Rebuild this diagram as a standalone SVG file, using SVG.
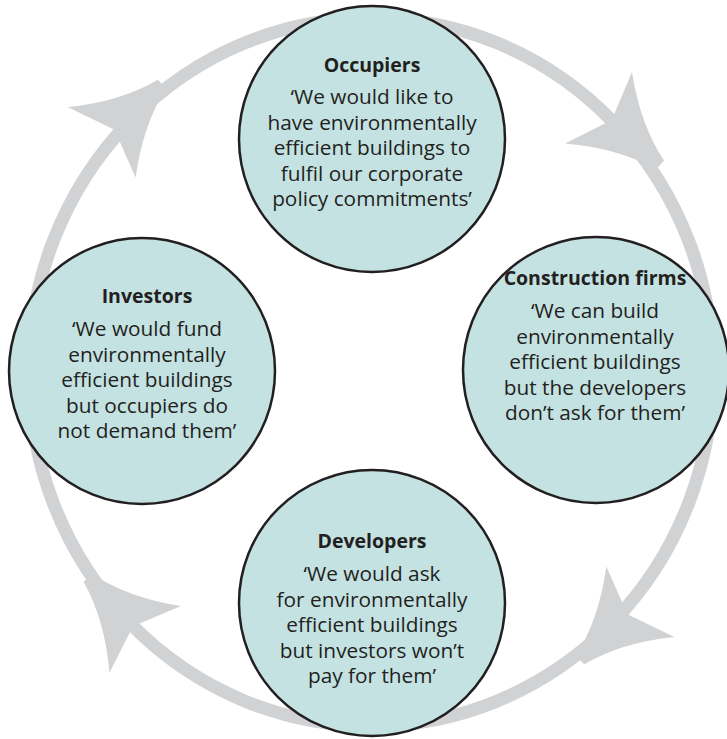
<svg xmlns="http://www.w3.org/2000/svg" width="727" height="739" viewBox="0 0 727 739">
<style>
.ring{fill:none;stroke:#d1d2d4;stroke-width:13}
.ah{fill:#d1d2d4}
.node{fill:#c4e2e2;stroke:#231f20;stroke-width:2.5}
.t{font-family:"Open Sans","Noto Sans",sans-serif;font-size:19.5px;font-weight:bold;fill:#231f20;text-anchor:middle}
.b{font-family:"Open Sans","Noto Sans",sans-serif;font-size:20.8px;fill:#231f20;text-anchor:middle}
</style>
<defs>
<path id="head" d="M0,-6 Q-42,-16 -84,-49 L-66,0 L-84,49 Q-42,16 0,6 Z"/>
</defs>
<g id="connectors">
<ellipse class="ring" cx="371" cy="372" rx="342" ry="354"/>
<use href="#head" class="ah" transform="translate(660,165) rotate(43)"/>
<use href="#head" class="ah" transform="translate(580,660) rotate(136)"/>
<use href="#head" class="ah" transform="translate(88,578) rotate(227)"/>
<use href="#head" class="ah" transform="translate(162,84) rotate(-44)"/>
</g>
<g id="occupiers">
<circle class="node" cx="372" cy="139" r="133"/>
<text class="t" x="372" y="72">Occupiers</text>
<text class="b" x="372" y="104">‘We would like to</text>
<text class="b" x="372" y="129.6">have environmentally</text>
<text class="b" x="372" y="155.2">efficient buildings to</text>
<text class="b" x="372" y="180.8">fulfil our corporate</text>
<text class="b" x="372" y="206.4">policy commitments’</text>
</g>
<g id="investors">
<circle class="node" cx="142" cy="371" r="133"/>
<text class="t" x="147" y="303">Investors</text>
<text class="b" x="147" y="336">‘We would fund</text>
<text class="b" x="147" y="361.6">environmentally</text>
<text class="b" x="147" y="387.2">efficient buildings</text>
<text class="b" x="147" y="412.8">but occupiers do</text>
<text class="b" x="147" y="438.4">not demand them’</text>
</g>
<g id="construction">
<circle class="node" cx="596" cy="370" r="133"/>
<text class="t" x="595" y="285">Construction firms</text>
<text class="b" x="595" y="318">‘We can build</text>
<text class="b" x="595" y="343.6">environmentally</text>
<text class="b" x="595" y="369.2">efficient buildings</text>
<text class="b" x="595" y="394.8">but the developers</text>
<text class="b" x="595" y="420.4">don’t ask for them’</text>
</g>
<g id="developers">
<circle class="node" cx="372" cy="603" r="133"/>
<text class="t" x="372" y="548">Developers</text>
<text class="b" x="372" y="581">‘We would ask</text>
<text class="b" x="372" y="606.6">for environmentally</text>
<text class="b" x="372" y="632.2">efficient buildings</text>
<text class="b" x="372" y="657.8">but investors won’t</text>
<text class="b" x="372" y="683.4">pay for them’</text>
</g>
</svg>
